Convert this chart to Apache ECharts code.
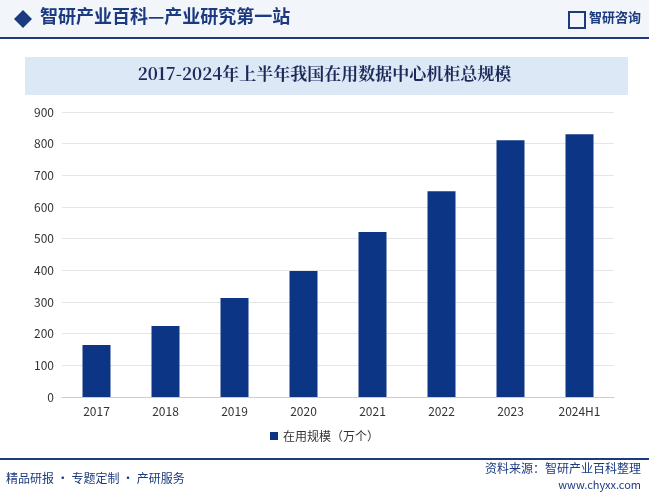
<!DOCTYPE html>
<html><head><meta charset="utf-8">
<script src="https://cdn.jsdelivr.net/npm/echarts@6/dist/echarts.min.js"></script>
<style>html,body{margin:0;padding:0;background:#fff}#c{width:649px;height:495px}</style>
</head><body><div id="c"></div>
<script>
const categories = ['2017','2018','2019','2020','2021','2022','2023','2024H1'];
const values = [164, 224, 313, 398, 521, 650, 811, 830];
const seriesName = '在用规模（万个）';
const chart = echarts.init(document.getElementById('c'));
const font = '"Noto Sans CJK SC", sans-serif';
chart.setOption({
  animation:false,
  graphic:[
    {type:'rect',shape:{x:0,y:0,width:649,height:38},style:{fill:'#f2f5fa'}},
    {type:'rect',shape:{x:0,y:37,width:649,height:2},style:{fill:'#1b3a80'}},
    {type:'polygon',shape:{points:[[14,19],[23,10],[32,19],[23,28]]},style:{fill:'#1b3a80'}},
    {type:'text',left:40,top:7,style:{text:'智研产业百科—产业研究第一站',font:'bold 18px '+font,fill:'#1b3a80'}},
    {type:'text',right:8,top:11,style:{text:'智研咨询',font:'bold 13px '+font,fill:'#1b3a80'}},
    {type:'rect',shape:{x:569,y:12,width:16,height:16},style:{fill:'none',stroke:'#1b3a80',lineWidth:2}},
    {type:'rect',shape:{x:25,y:57,width:603,height:38},style:{fill:'#dde8f6'}},
    {type:'text',left:'center',top:65,style:{text:'2017-2024年上半年我国在用数据中心机柜总规模',font:'bold 17px "Noto Serif CJK SC", '+font,fill:'#1b2a5a'}},
    {type:'rect',shape:{x:0,y:458,width:649,height:2},style:{fill:'#1b3a80'}},
    {type:'text',left:6,top:472,style:{text:'精品研报 · 专题定制 · 产研服务',font:'12px '+font,fill:'#1b3a80'}},
    {type:'text',right:8,top:462,style:{text:'资料来源：智研产业百科整理',font:'12px '+font,fill:'#1b3a80'}},
    {type:'text',right:8,top:479,style:{text:'www.chyxx.com',font:'11px '+font,fill:'#1b3a80'}}
  ],
  grid:{left:62,right:35,top:112,bottom:98,containLabel:false},
  legend:{bottom:48,left:'center',itemWidth:8,itemHeight:8,icon:'rect',textStyle:{fontFamily:font,fontSize:12,color:'#333'}},
  xAxis:{type:'category',data:categories,axisTick:{show:false},axisLine:{lineStyle:{color:'#ccc'}},axisLabel:{color:'#333',fontSize:12,fontFamily:font}},
  yAxis:{type:'value',min:0,max:900,interval:100,axisLabel:{color:'#333',fontSize:12,fontFamily:font},splitLine:{lineStyle:{color:'#e6e6e6'}}},
  series:[{name:seriesName,type:'bar',data:values,barWidth:28,itemStyle:{color:'#0d3585'}}]
});
</script></body></html>
